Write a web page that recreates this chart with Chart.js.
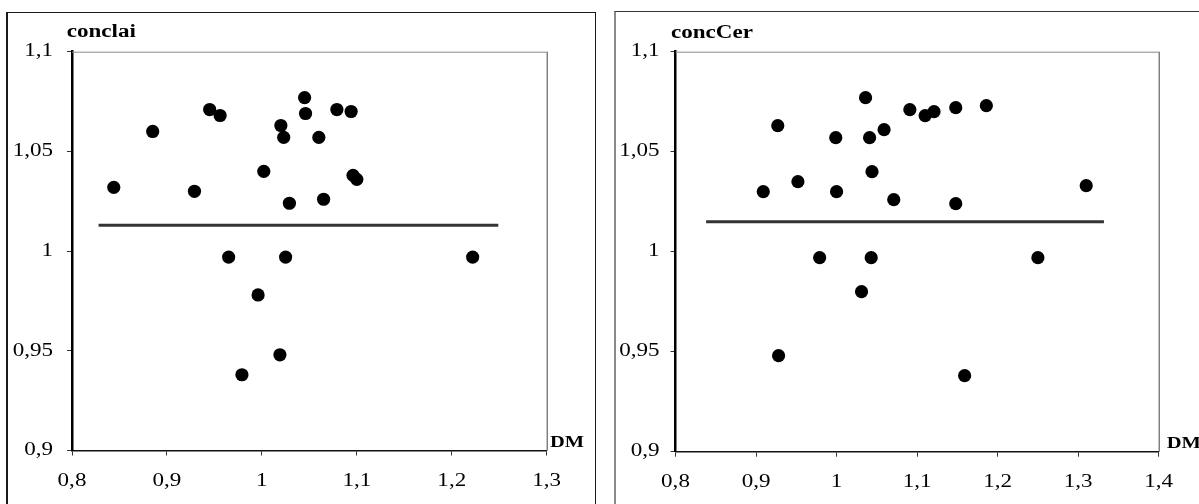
<!DOCTYPE html>
<html>
<head>
<meta charset="utf-8">
<script src="https://cdn.jsdelivr.net/npm/chart.js@4.4.1/dist/chart.umd.min.js"></script>
<style>
  html, body { margin: 0; padding: 0; background: #fff; width: 1199px; height: 504px; overflow: hidden; }
  .frame { position: absolute; box-sizing: border-box; }
  #frame-left { left: 6px; top: 12px; width: 590px; height: 500px; border: 1px solid #1a1a1a; border-left-width: 2px; border-bottom: none; }
  #frame-right { left: 614px; top: 11px; width: 600px; height: 500px; border-top: 1px solid #333; border-left: 2px solid #8a8a8a; }
  canvas { position: absolute; }
  #chart-left { left: 8px; top: 13px; }
  #chart-right { left: 617px; top: 13px; }
</style>
</head>
<body>
<div class="frame" id="frame-left"></div>
<div class="frame" id="frame-right"></div>
<canvas id="chart-left" width="586" height="491"></canvas>
<canvas id="chart-right" width="582" height="491"></canvas>
<script>
const FONT = "'Liberation Serif', 'Times New Roman', serif";

// left panel: conclai vs DM
const leftX = [0.844, 0.885, 0.945, 0.956, 0.929, 1.002, 1.020, 1.023, 1.045, 1.046, 1.029, 1.060,
               1.065, 1.079, 1.094, 1.096, 1.100, 0.965, 1.025, 1.222, 0.996, 1.019, 0.979];
const leftY = [1.032, 1.060, 1.071, 1.068, 1.030, 1.040, 1.063, 1.057, 1.077, 1.069, 1.024, 1.057,
               1.026, 1.071, 1.070, 1.038, 1.036, 0.997, 0.997, 0.997, 0.978, 0.948, 0.938];
const leftLineX = [0.828, 1.249];
const leftLineY = [1.013, 1.013];
const leftXTicks = [0.8, 0.9, 1, 1.1, 1.2, 1.3];
const leftXLabels = ['0,8', '0,9', '1', '1,1', '1,2', '1,3'];

// right panel: concCer vs DM
const rightX = [0.909, 0.927, 0.952, 0.999, 1.000, 1.036, 1.041, 1.059, 1.044, 1.071, 1.091, 1.110,
                1.121, 1.148, 1.186, 1.148, 1.310, 0.979, 1.043, 1.250, 1.031, 0.928, 1.159];
const rightY = [1.030, 1.063, 1.035, 1.057, 1.030, 1.077, 1.057, 1.061, 1.040, 1.026, 1.071, 1.068,
                1.070, 1.072, 1.073, 1.024, 1.033, 0.997, 0.997, 0.997, 0.980, 0.948, 0.938];
const rightLineX = [0.838, 1.332];
const rightLineY = [1.015, 1.015];
const rightXTicks = [0.8, 0.9, 1, 1.1, 1.2, 1.3, 1.4];
const rightXLabels = ['0,8', '0,9', '1', '1,1', '1,2', '1,3', '1,4'];

const yTicks = [0.9, 0.95, 1, 1.05, 1.1];
const yLabels = ['0,9', '0,95', '1', '1,05', '1,1'];
const titles = ['conclai', 'concCer'];
const axisName = 'DM';

// the scanned original has its glyphs stretched sideways; widen every text draw about its anchor
const stretchPlugin = {
    id: 'stretch',
    beforeDraw(chart) {
        const ctx = chart.ctx;
        if (ctx._stretched) return;
        const orig = ctx.fillText.bind(ctx);
        ctx.fillText = function (text, x, y) {
            ctx.save();
            ctx.translate(x, y);
            ctx.scale(1.28, 1);
            orig(text, 0, 0);
            ctx.restore();
        };
        ctx._stretched = true;
    }
};

// thin top/right edges of the plot box
const boxPlugin = {
    id: 'plotBox',
    beforeDatasetsDraw(chart) {
        const ctx = chart.ctx, a = chart.chartArea;
        ctx.save();
        ctx.lineWidth = 1;
        ctx.strokeStyle = '#8a8a8a';
        ctx.beginPath();
        ctx.moveTo(a.left, a.top + 0.5);
        ctx.lineTo(a.right, a.top + 0.5);
        ctx.stroke();
        ctx.strokeStyle = '#444';
        ctx.beginPath();
        ctx.moveTo(a.right + 0.5, a.top);
        ctx.lineTo(a.right + 0.5, a.bottom);
        ctx.stroke();
        ctx.restore();
    }
};

const textPlugin = {
    id: 'panelText',
    afterDraw(chart, args, opts) {
        const ctx = chart.ctx;
        ctx.save();
        ctx.fillStyle = '#000';
        ctx.textAlign = 'left';
        ctx.textBaseline = 'alphabetic';
        ctx.font = 'bold 18px ' + FONT;
        ctx.fillText(opts.title, opts.titleX, opts.titleY);
        ctx.font = 'bold 16px ' + FONT;
        ctx.fillText(opts.axis, opts.axisX, opts.axisY);
        ctx.restore();
    }
};

function makePanel(id, xs, ys, lineX, lineY, xTicks, xLabels, cfg) {
    let points = xs.map((x, i) => ({x: x, y: ys[i]}));
    let line = lineX.map((x, i) => ({x: x, y: lineY[i]}));

    return new Chart(document.getElementById(id), {
        type: 'scatter',
        data: {
            datasets: [{
                type: 'line',
                data: line,
                borderColor: '#333',
                borderWidth: 3,
                pointRadius: 0,
                fill: false
            }, {
                data: points,
                backgroundColor: '#000',
                borderWidth: 0,
                pointRadius: 6.6,
                pointHoverRadius: 6.6
            }]
        },
        options: {
            responsive: false,
            devicePixelRatio: 1,
            animation: false,
            events: [],
            layout: {padding: {left: 0, top: cfg.padTop, right: cfg.padRight, bottom: cfg.padBottom}},
            plugins: {
                legend: {display: false},
                tooltip: {enabled: false},
                panelText: {title: cfg.title, titleX: cfg.titleX, titleY: cfg.titleY,
                            axis: axisName, axisX: cfg.axisX, axisY: cfg.axisY}
            },
            scales: {
                x: {
                    type: 'linear',
                    min: xTicks[0],
                    max: xTicks[xTicks.length - 1],
                    afterBuildTicks: (s) => { s.ticks = xTicks.map(v => ({value: v})); },
                    afterFit: (s) => { s.height = 40; },
                    grid: {drawOnChartArea: false, tickLength: 5, tickColor: '#333', tickWidth: 1},
                    border: {color: '#111', width: 1.5},
                    ticks: {
                        autoSkip: false, maxRotation: 0, padding: 14.5, color: '#000',
                        font: {family: FONT, size: 18},
                        callback: (v, i) => xLabels[i]
                    }
                },
                y: {
                    type: 'linear',
                    min: yTicks[0],
                    max: yTicks[yTicks.length - 1],
                    afterBuildTicks: (s) => { s.ticks = yTicks.map(v => ({value: v})); },
                    afterFit: (s) => { s.width = cfg.yWidth; },
                    grid: {drawOnChartArea: false, tickLength: 5, tickColor: '#333', tickWidth: 1},
                    border: {color: '#000', width: 2.5},
                    ticks: {
                        autoSkip: false, padding: cfg.yPad, color: '#000',
                        font: {family: FONT, size: 18},
                        callback: (v, i) => yLabels[i]
                    }
                }
            }
        },
        plugins: [stretchPlugin, boxPlugin, textPlugin]
    });
}

makePanel('chart-left', leftX, leftY, leftLineX, leftLineY, leftXTicks, leftXLabels, {
    padTop: 38.7, padRight: 47.3, padBottom: 13.5, yWidth: 64, yPad: 14,
    title: titles[0], titleX: 58.7, titleY: 24.3, axisX: 542, axisY: 434.3
});

makePanel('chart-right', rightX, rightY, rightLineX, rightLineY, rightXTicks, rightXLabels, {
    padTop: 38.7, padRight: 40.3, padBottom: 12.3, yWidth: 58.5, yPad: 11,
    title: titles[1], titleX: 54, titleY: 25, axisX: 549.7, axisY: 434.7
});
</script>
</body>
</html>
